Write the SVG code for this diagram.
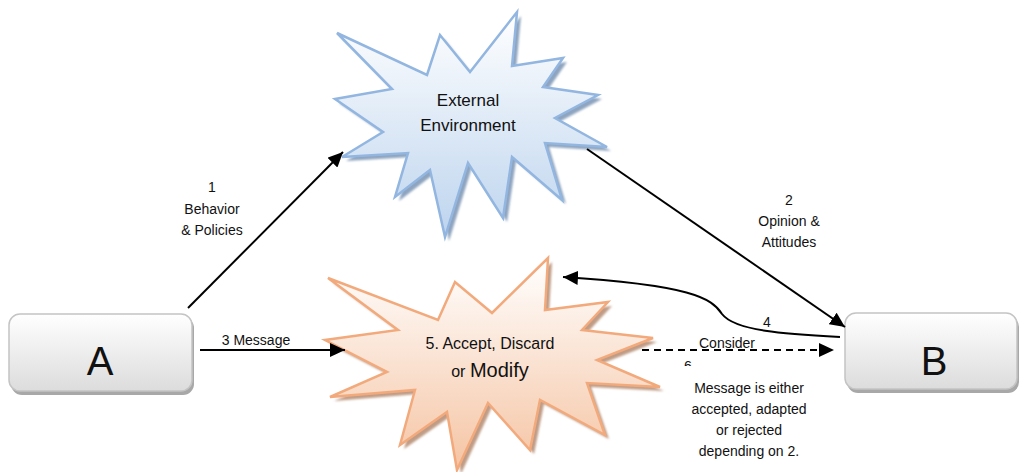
<svg xmlns="http://www.w3.org/2000/svg" width="1019" height="472" viewBox="0 0 1019 472">
<style>
text{font-family:"Liberation Sans",Arial,sans-serif;fill:#111;text-anchor:middle}
.lbl{font-size:14px}
.conn{fill:none;stroke:#000;stroke-width:2}
.box{stroke:#c4c4c4;stroke-width:1.5;fill:url(#gBox)}
.boxsh{fill:#a8a8a8}
</style>
<defs>
<linearGradient id="gBox" x1="0" y1="0" x2="0" y2="1"><stop offset="0" stop-color="#ffffff"/><stop offset="1" stop-color="#dcdcdc"/></linearGradient>
<linearGradient id="gBlue" x1="0" y1="0" x2="0" y2="1"><stop offset="0" stop-color="#ffffff"/><stop offset="1" stop-color="#bdd4ee"/></linearGradient>
<linearGradient id="gOrange" x1="0" y1="0" x2="0" y2="1"><stop offset="0" stop-color="#ffffff"/><stop offset="1" stop-color="#f5c4a3"/></linearGradient>
<filter id="blur" x="-10%" y="-10%" width="120%" height="120%"><feGaussianBlur stdDeviation="0.8"/></filter>
<marker id="arr" markerWidth="16" markerHeight="14" refX="15" refY="7" orient="auto" markerUnits="userSpaceOnUse"><path d="M0,0 L15,7 L0,14 Z" fill="#000"/></marker>
<clipPath id="cut6"><rect x="670" y="355" width="40" height="11"/></clipPath>
</defs>

<g id="node-external">
<polygon transform="translate(4,4)" filter="url(#blur)" fill="#8ea4bf" points="337,33 427,75 440,35 470,72 517,12 512,66 563,58 543,87 598,95 555,118 607,147 545,143 562,200 512,157 503,218 468,163 445,237 430,170 395,197 408,153 342,157 383,132 335,99 392,89"/>
<polygon fill="url(#gBlue)" stroke="#92b6e0" stroke-width="2.5" stroke-linejoin="miter" points="337,33 427,75 440,35 470,72 517,12 512,66 563,58 543,87 598,95 555,118 607,147 545,143 562,200 512,157 503,218 468,163 445,237 430,170 395,197 408,153 342,157 383,132 335,99 392,89"/>
<text x="468" y="106" font-size="17">External</text>
<text x="468" y="131" font-size="17">Environment</text>
</g>

<g id="node-accept">
<polygon transform="translate(4,4)" filter="url(#blur)" fill="#c09c86" points="328,278 438,320 455,282 492,313 548,258 545,310 608,302 582,330 653,338 597,360 660,387 587,383 605,435 540,400 530,450 488,403 457,470 447,412 400,445 415,390 330,397 387,372 325,340 398,330"/>
<polygon fill="url(#gOrange)" stroke="#f2aa7c" stroke-width="2.5" points="328,278 438,320 455,282 492,313 548,258 545,310 608,302 582,330 653,338 597,360 660,387 587,383 605,435 540,400 530,450 488,403 457,470 447,412 400,445 415,390 330,397 387,372 325,340 398,330"/>
<text x="490" y="349" font-size="16">5. Accept, Discard</text>
<text x="490" y="377"><tspan font-size="16">or </tspan><tspan font-size="20">Modify</tspan></text>
</g>

<g id="node-A">
<rect class="boxsh" x="11" y="317" width="183" height="78" rx="11"/>
<rect class="box" x="9" y="314" width="183" height="77" rx="11"/>
<text x="100" y="375" font-size="40">A</text>
</g>

<g id="node-B">
<rect class="boxsh" x="847" y="316" width="172" height="77" rx="11"/>
<rect class="box" x="845" y="313" width="172" height="76" rx="11"/>
<text x="934" y="375" font-size="40">B</text>
</g>

<g id="connectors">
<line class="conn" x1="188" y1="308" x2="343" y2="152" marker-end="url(#arr)"/>
<line class="conn" x1="587" y1="149" x2="845" y2="327" marker-end="url(#arr)"/>
<line class="conn" x1="200" y1="350" x2="345" y2="350" marker-end="url(#arr)"/>
<path class="conn" d="M840,337 C785,334 735,331 722,314 C712,298 690,285 563,277" marker-end="url(#arr)"/>
<line class="conn" x1="642" y1="350" x2="834" y2="350" stroke-dasharray="7,5" marker-end="url(#arr)"/>
</g>

<g id="labels">
<text class="lbl" x="212" y="192">1</text>
<text class="lbl" x="212" y="214">Behavior</text>
<text class="lbl" x="212" y="235">&amp; Policies</text>
<text class="lbl" x="789" y="205">2</text>
<text class="lbl" x="789" y="226">Opinion &amp;</text>
<text class="lbl" x="789" y="247">Attitudes</text>
<text class="lbl" x="256" y="345">3 Message</text>
<text class="lbl" x="767" y="327">4</text>
<text class="lbl" x="727" y="348">Consider</text>
<text class="lbl" x="688" y="371" clip-path="url(#cut6)">6</text>
<text class="lbl" x="749" y="393">Message is either</text>
<text class="lbl" x="749" y="414">accepted, adapted</text>
<text class="lbl" x="749" y="435">or rejected</text>
<text class="lbl" x="749" y="456">depending on 2.</text>
</g>
</svg>
